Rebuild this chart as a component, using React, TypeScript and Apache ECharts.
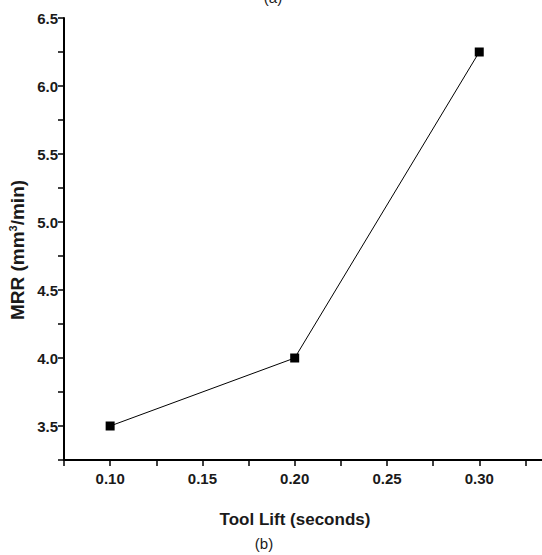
import React, { useEffect, useRef } from "react";
import * as echarts from "echarts";

const toolLift = [0.1, 0.2, 0.3];
const mrr = [3.5, 4.0, 6.25];
const xMajorTicks = [0.1, 0.15, 0.2, 0.25, 0.3];
const xAllTicks = [0.075, 0.1, 0.125, 0.15, 0.175, 0.2, 0.225, 0.25, 0.275, 0.3, 0.325];
const yMajorTicks = [3.5, 4.0, 4.5, 5.0, 5.5, 6.0, 6.5];
const yAllTicks = [3.25, 3.5, 3.75, 4.0, 4.25, 4.5, 4.75, 5.0, 5.25, 5.5, 5.75, 6.0, 6.25, 6.5];

export default function App() {
  const ref = useRef<HTMLDivElement>(null);
  useEffect(() => {
    if (!ref.current) return;
    const chart = echarts.init(ref.current, null, { renderer: "svg" });
    const font = "'Liberation Sans', Arial, sans-serif";
    chart.setOption({
      animation: false,
      backgroundColor: "#ffffff",
      grid: { left: 64, right: 0, top: 18, bottom: 95 },
      xAxis: {
        type: "value",
        min: 0.075,
        max: 0.334,
        splitLine: { show: false },
        axisLine: { show: true, lineStyle: { color: "#000", width: 2 } },
        axisTick: { show: true, customValues: xAllTicks, length: 6, lineStyle: { color: "#000", width: 1.5 } },
        axisLabel: {
          customValues: xMajorTicks,
          formatter: (v: number) => v.toFixed(2),
          color: "#1a1a1a",
          fontFamily: font,
          fontWeight: "bold",
          fontSize: 15,
          margin: 11,
        },
      },
      yAxis: {
        type: "value",
        min: 3.25,
        max: 6.5,
        splitLine: { show: false },
        axisLine: { show: true, lineStyle: { color: "#000", width: 2 } },
        axisTick: { show: true, customValues: yAllTicks, length: 6, lineStyle: { color: "#000", width: 1.5 } },
        axisLabel: {
          customValues: yMajorTicks,
          formatter: (v: number) => v.toFixed(1),
          color: "#1a1a1a",
          fontFamily: font,
          fontWeight: "bold",
          fontSize: 15,
          margin: 6,
        },
      },
      series: [
        {
          type: "line",
          data: toolLift.map((x, i) => [x, mrr[i]]),
          symbol: "rect",
          symbolSize: 9,
          lineStyle: { color: "#000", width: 1 },
          itemStyle: { color: "#000" },
        },
      ],
      graphic: [
        {
          type: "text",
          x: 295,
          y: 519,
          style: {
            text: "Tool Lift (seconds)",
            fontFamily: font,
            fontWeight: "bold",
            fontSize: 17,
            fill: "#1a1a1a",
            align: "center",
            verticalAlign: "middle",
          },
        },
        {
          type: "text",
          x: 264,
          y: 543,
          style: {
            text: "(b)",
            fontFamily: font,
            fontSize: 15,
            fill: "#1a1a1a",
            align: "center",
            verticalAlign: "middle",
          },
        },
        {
          type: "text",
          x: 273,
          y: -3,
          style: {
            text: "(a)",
            fontFamily: font,
            fontSize: 15,
            fill: "#1a1a1a",
            align: "center",
            verticalAlign: "middle",
          },
        },
        {
          type: "text",
          x: 17,
          y: 250,
          rotation: Math.PI / 2,
          style: {
            text: "MRR (mm{sup|3}/min)",
            fontFamily: font,
            fontWeight: "bold",
            fontSize: 19,
            fill: "#1a1a1a",
            align: "center",
            verticalAlign: "middle",
            rich: {
              sup: { fontFamily: font, fontWeight: "bold", fontSize: 11, fill: "#1a1a1a", verticalAlign: "top", padding: [0, 0, 8, 0] },
            },
          },
        },
      ],
    });
    return () => chart.dispose();
  }, []);
  return <div ref={ref} style={{ position: "fixed", left: 0, top: 0, width: 542, height: 555 }} />;
}
